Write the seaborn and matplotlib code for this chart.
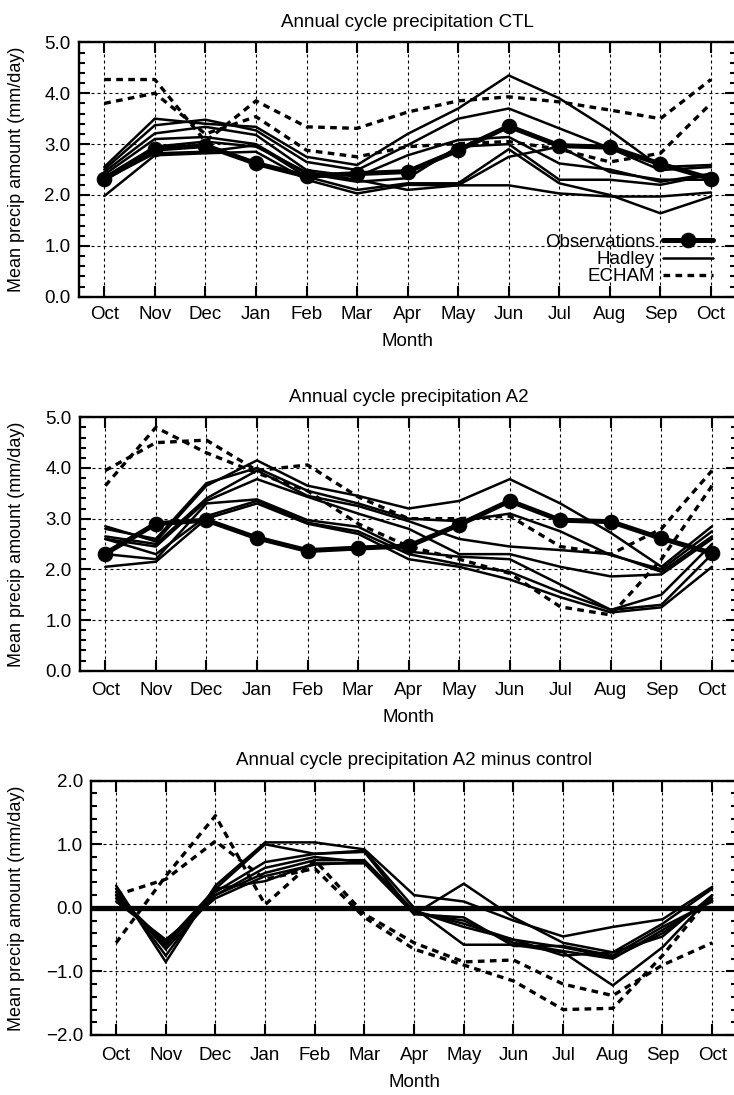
import numpy as np
import pandas as pd
import matplotlib
matplotlib.use("Agg")
import matplotlib.pyplot as plt
import seaborn as sns
from matplotlib.ticker import MultipleLocator, FuncFormatter, FixedLocator

# ---------------- data ----------------
months = ['Oct', 'Nov', 'Dec', 'Jan', 'Feb', 'Mar', 'Apr', 'May', 'Jun',
          'Jul', 'Aug', 'Sep', 'Oct']

observations = [2.31, 2.90, 2.97, 2.62, 2.37, 2.42, 2.46, 2.88, 3.35, 2.97, 2.94, 2.61, 2.32]

ctl_hadley_1 = [2.55, 3.50, 3.40, 3.34, 2.75, 2.59, 3.20, 3.70, 4.35, 3.90, 3.27, 2.55, 2.59]
ctl_hadley_2 = [2.50, 3.37, 3.48, 3.27, 2.65, 2.49, 2.98, 3.50, 3.70, 3.31, 2.92, 2.49, 2.55]
ctl_hadley_3 = [2.45, 3.21, 3.34, 3.18, 2.49, 2.36, 2.78, 3.08, 3.14, 2.62, 2.50, 2.26, 2.42]
ctl_hadley_4 = [2.40, 3.10, 3.14, 3.00, 2.42, 2.26, 2.33, 2.95, 3.00, 2.30, 2.30, 2.20, 2.40]
ctl_hadley_5 = [2.30, 2.82, 2.85, 2.98, 2.36, 2.10, 2.23, 2.23, 2.90, 2.23, 2.00, 1.64, 1.97]
ctl_hadley_6 = [1.98, 2.78, 2.82, 2.85, 2.30, 2.03, 2.20, 2.19, 2.19, 2.03, 1.97, 1.97, 2.05]
ctl_hadley_7 = [2.35, 2.95, 3.05, 2.95, 2.45, 2.30, 2.10, 2.19, 2.75, 2.95, 2.45, 2.30, 2.30]
ctl_echam_1 = [4.27, 4.27, 3.05, 3.85, 3.34, 3.31, 3.63, 3.85, 3.93, 3.83, 3.67, 3.50, 4.27]
ctl_echam_2 = [3.80, 4.00, 3.20, 3.54, 2.88, 2.75, 2.95, 3.01, 3.05, 2.90, 2.65, 2.82, 3.80]

a2_hadley_1 = [2.85, 2.55, 3.65, 4.15, 3.65, 3.45, 3.20, 3.35, 3.78, 3.30, 2.72, 2.05, 2.85]
a2_hadley_2 = [2.80, 2.60, 3.70, 4.00, 3.55, 3.30, 3.00, 2.95, 3.10, 2.75, 2.28, 2.00, 2.75]
a2_hadley_3 = [2.65, 2.50, 3.40, 3.95, 3.45, 3.25, 2.95, 2.60, 2.45, 2.38, 2.30, 1.95, 2.65]
a2_hadley_4 = [2.60, 2.45, 3.35, 3.78, 3.43, 3.10, 2.80, 2.30, 2.30, 2.05, 1.86, 1.90, 2.60]
a2_hadley_5 = [2.30, 2.20, 3.30, 3.38, 2.97, 2.84, 2.35, 2.25, 2.20, 1.70, 1.20, 1.50, 2.50]
a2_hadley_6 = [2.60, 2.30, 3.05, 3.35, 2.92, 2.75, 2.30, 2.10, 1.95, 1.55, 1.20, 1.30, 2.30]
a2_hadley_7 = [2.05, 2.15, 3.00, 3.30, 2.90, 2.70, 2.20, 2.05, 1.80, 1.45, 1.15, 1.25, 2.05]
a2_echam_1 = [3.65, 4.80, 4.30, 3.90, 3.55, 2.90, 2.45, 2.20, 1.92, 1.26, 1.10, 2.20, 3.65]
a2_echam_2 = [3.95, 4.50, 4.55, 3.95, 4.06, 3.43, 3.00, 3.00, 3.05, 2.45, 2.30, 2.80, 3.95]

diff_hadley_1 = [0.35, -0.85, 0.35, 1.03, 1.03, 0.92, 0.20, 0.10, -0.20, -0.45, -0.30, -0.18, 0.33]
diff_hadley_2 = [0.30, -0.75, 0.30, 1.00, 0.85, 0.88, -0.10, 0.38, -0.15, -0.55, -0.70, -0.25, 0.30]
diff_hadley_3 = [0.20, -0.60, 0.25, 0.72, 0.85, 0.90, 0.00, -0.58, -0.58, -0.70, -1.22, -0.62, 0.20]
diff_hadley_4 = [0.15, -0.55, 0.20, 0.63, 0.80, 0.72, -0.05, -0.25, -0.50, -0.62, -0.78, -0.40, 0.15]
diff_hadley_5 = [0.10, -0.50, 0.15, 0.50, 0.68, 0.72, -0.08, -0.20, -0.55, -0.68, -0.80, -0.35, 0.12]
diff_hadley_6 = [0.20, -0.55, 0.30, 0.42, 0.70, 0.70, -0.10, -0.15, -0.60, -0.60, -0.75, -0.30, 0.10]
diff_hadley_7 = [0.25, -0.65, 0.20, 0.55, 0.75, 0.75, -0.05, -0.30, -0.50, -0.75, -0.70, -0.45, 0.20]
diff_echam_1 = [-0.55, 0.50, 1.45, 0.05, 0.75, -0.10, -0.55, -0.85, -0.82, -1.20, -1.38, -0.90, -0.55]
diff_echam_2 = [0.20, 0.45, 1.05, 0.45, 0.62, -0.15, -0.65, -0.90, -1.15, -1.60, -1.58, -0.75, 0.20]

titles = ['Annual cycle precipitation CTL',
          'Annual cycle precipitation A2',
          'Annual cycle precipitation A2 minus control']
xlabel = 'Month'
ylabel = 'Mean precip amount (mm/day)'
legend_labels = ['Observations', 'Hadley', 'ECHAM']

# --------------- style ----------------
sns.set_style('ticks')
plt.rcParams['font.family'] = ['Liberation Sans', 'DejaVu Sans']
plt.rcParams['text.color'] = 'black'
plt.rcParams['axes.labelcolor'] = 'black'
plt.rcParams['xtick.color'] = 'black'
plt.rcParams['ytick.color'] = 'black'
FS = 13.5

fig = plt.figure(figsize=(7.34, 10.95), dpi=100)
ax1 = fig.add_axes([0.1076, 0.7290, 0.8955, 0.2323])
ax2 = fig.add_axes([0.1090, 0.3875, 0.8955, 0.2314])
ax3 = fig.add_axes([0.1243, 0.0548, 0.8798, 0.2322])

HAD_KW = dict(color='black', linewidth=1.8, solid_joinstyle='miter')
ECH_KW = dict(color='black', linewidth=2.4, linestyle=(0, (2.0, 1.6)))
OBS_KW = dict(color='black', linewidth=3.6, marker='o', markersize=10.5,
              markeredgecolor='black', markerfacecolor='black')


def build_frame(hadley, echam, obs=None):
    rows = []
    for i, s in enumerate(hadley):
        rows.append(pd.DataFrame({'pos': range(len(months)), 'value': s,
                                  'model': 'Hadley', 'run': f'H{i}'}))
    for i, s in enumerate(echam):
        rows.append(pd.DataFrame({'pos': range(len(months)), 'value': s,
                                  'model': 'ECHAM', 'run': f'E{i}'}))
    if obs is not None:
        rows.append(pd.DataFrame({'pos': range(len(months)), 'value': obs,
                                  'model': 'Observations', 'run': 'O'}))
    return pd.concat(rows, ignore_index=True)


frames = [
    build_frame([ctl_hadley_1, ctl_hadley_2, ctl_hadley_3, ctl_hadley_4,
                 ctl_hadley_5, ctl_hadley_6, ctl_hadley_7],
                [ctl_echam_1, ctl_echam_2], observations),
    build_frame([a2_hadley_1, a2_hadley_2, a2_hadley_3, a2_hadley_4,
                 a2_hadley_5, a2_hadley_6, a2_hadley_7],
                [a2_echam_1, a2_echam_2], observations),
    build_frame([diff_hadley_1, diff_hadley_2, diff_hadley_3, diff_hadley_4,
                 diff_hadley_5, diff_hadley_6, diff_hadley_7],
                [diff_echam_1, diff_echam_2]),
]

handles = {}
for ax, df, title in zip([ax1, ax2, ax3], frames, titles):
    for run, sub in df.groupby('run', sort=False):
        model = sub['model'].iloc[0]
        kw = {'Hadley': HAD_KW, 'ECHAM': ECH_KW, 'Observations': OBS_KW}[model]
        z = {'Hadley': 3, 'ECHAM': 2, 'Observations': 5}[model]
        sns.lineplot(data=sub, x='pos', y='value', ax=ax, legend=False,
                     zorder=z, estimator=None, sort=False, **kw)
        if ax is ax1 and model not in handles:
            handles[model] = ax.lines[-1]

    ax.set_xlim(-0.5, 12.5)
    ax.xaxis.set_major_locator(FixedLocator(range(len(months))))
    ax.set_xticklabels(months)
    ax.yaxis.set_major_locator(MultipleLocator(1.0))
    ax.yaxis.set_minor_locator(MultipleLocator(0.2))
    ax.yaxis.set_major_formatter(FuncFormatter(lambda v, p: f'{v:.1f}'.replace('-', '\u2212')))
    ax.grid(True, which='major', color='black', linewidth=0.8,
            linestyle=(0, (2.7, 2.7)))
    ax.set_axisbelow(True)
    ax.tick_params(which='both', direction='in', top=True, right=True,
                   width=1.5, labelsize=FS, colors='black')
    ax.tick_params(which='major', length=8)
    ax.tick_params(which='minor', length=4.5)
    ax.tick_params(axis='x', which='minor', bottom=False, top=False)
    for sp in ax.spines.values():
        sp.set_linewidth(1.7)
        sp.set_color('black')
    ax.set_title(title, fontsize=FS, pad=11, color='black')
    ax.set_xlabel(xlabel, fontsize=FS, labelpad=7, color='black')
    ax.set_ylabel(ylabel, fontsize=13, color='black')

ax1.set_ylim(0, 5)
ax2.set_ylim(0, 5)
ax3.set_ylim(-2, 2)
ax3.axhline(0, color='black', linewidth=3.8, zorder=4)

ax1.tick_params(axis='x', pad=7)
ax2.tick_params(axis='x', pad=8)
ax3.tick_params(axis='x', pad=9)
for ax in (ax1, ax2, ax3):
    ax.tick_params(axis='y', pad=6)

# y-label positions (axes coords)
ax1.yaxis.set_label_coords(-0.082, 0.5)
ax2.yaxis.set_label_coords(-0.084, 0.5)
ax3.yaxis.set_label_coords(-0.103, 0.5)

leg = ax1.legend([handles[l] for l in legend_labels], legend_labels,
                 loc='lower right', bbox_to_anchor=(0.965, 0.045),
                 frameon=False, markerfirst=False, handlelength=2.7,
                 handletextpad=0.4, labelspacing=0.0, borderpad=0,
                 borderaxespad=0, fontsize=FS, numpoints=1)
for t in leg.get_texts():
    t.set_color('black')

fig.savefig('out.png', dpi=100)
